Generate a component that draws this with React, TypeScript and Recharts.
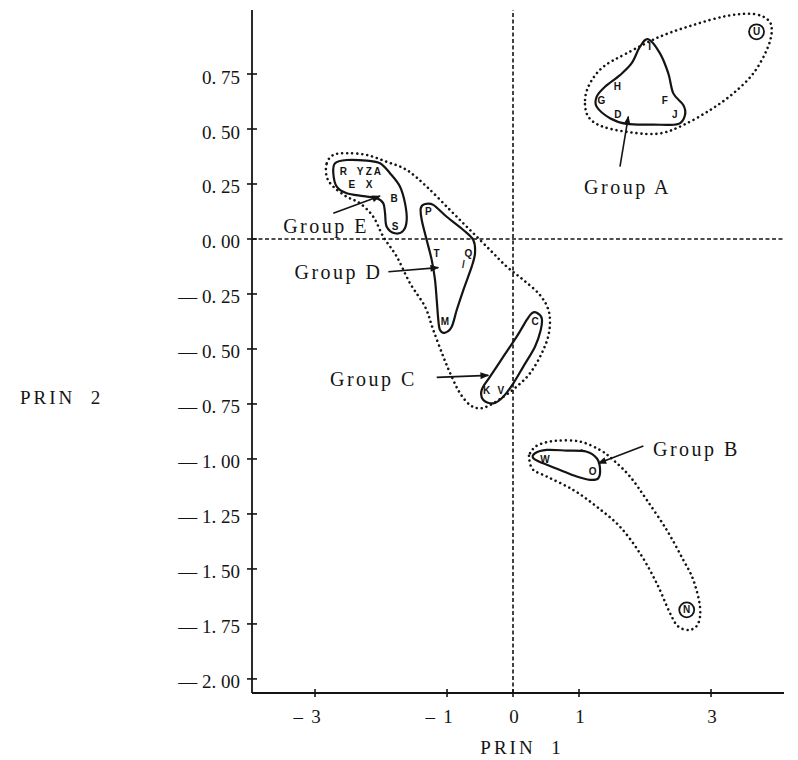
import React from 'react';
import { ComposedChart, XAxis, YAxis, Line, Scatter, ReferenceLine } from 'recharts';

// ---------- axes ----------
const xDomain: [number, number] = [-3.955, 4.106];
const yDomain: [number, number] = [-2.064, 1.041];
const xTicks = [-3, -1, 0, 1, 3];
const yTicks = [0.75, 0.5, 0.25, 0, -0.25, -0.5, -0.75, -1, -1.25, -1.5, -1.75, -2];

// ---------- observations (letters) ----------
const groupAPoints = [
  { label: 'I', x: 2.07, y: 0.875 },
  { label: 'H', x: 1.58, y: 0.695 },
  { label: 'G', x: 1.34, y: 0.63 },
  { label: 'D', x: 1.59, y: 0.567 },
  { label: 'F', x: 2.3, y: 0.63 },
  { label: 'J', x: 2.45, y: 0.564 },
];
const outlierPoints = [
  { label: 'U', x: 3.69, y: 0.942, circled: true },
  { label: 'N', x: 2.632, y: -1.686, circled: true },
];
const groupEPoints = [
  { label: 'R', x: -2.571, y: 0.309 },
  { label: 'Y', x: -2.318, y: 0.309 },
  { label: 'Z', x: -2.185, y: 0.309 },
  { label: 'A', x: -2.056, y: 0.309 },
  { label: 'E', x: -2.444, y: 0.249 },
  { label: 'X', x: -2.18, y: 0.249 },
  { label: 'B', x: -1.803, y: 0.182 },
  { label: 'S', x: -1.788, y: 0.059 },
];
const groupDPoints = [
  { label: 'P', x: -1.283, y: 0.124 },
  { label: 'T', x: -1.157, y: -0.065 },
  { label: 'Q', x: -0.677, y: -0.065 },
  { label: '/', x: -0.753, y: -0.118 },
  { label: 'M', x: -1.03, y: -0.376 },
];
const groupCPoints = [
  { label: 'C', x: 0.333, y: -0.376 },
  { label: 'K', x: -0.4, y: -0.69 },
  { label: 'V', x: -0.186, y: -0.69 },
];
const groupBPoints = [
  { label: 'W', x: 0.485, y: -1.001 },
  { label: 'O', x: 1.207, y: -1.058 },
  { label: "'", x: 1.04, y: -0.974 },
];

// ---------- group outlines (closed curves through these points) ----------
const outlineA = [
  { x: 2.05, y: 0.908 }, { x: 2.227, y: 0.844 }, { x: 2.353, y: 0.753 }, { x: 2.429, y: 0.662 },
  { x: 2.58, y: 0.609 }, { x: 2.606, y: 0.564 }, { x: 2.505, y: 0.523 }, { x: 2.126, y: 0.52 },
  { x: 1.723, y: 0.523 }, { x: 1.47, y: 0.549 }, { x: 1.268, y: 0.601 }, { x: 1.268, y: 0.647 },
  { x: 1.394, y: 0.692 }, { x: 1.621, y: 0.745 }, { x: 1.798, y: 0.799 }, { x: 1.924, y: 0.874 },
];
const outlineAU = [
  { x: 1.091, y: 0.632 }, { x: 1.167, y: 0.708 }, { x: 1.368, y: 0.783 }, { x: 1.723, y: 0.844 },
  { x: 2.227, y: 0.92 }, { x: 2.732, y: 0.973 }, { x: 3.238, y: 1.014 }, { x: 3.641, y: 1.023 },
  { x: 3.868, y: 0.995 }, { x: 3.92, y: 0.942 }, { x: 3.844, y: 0.859 }, { x: 3.641, y: 0.753 },
  { x: 3.338, y: 0.662 }, { x: 2.985, y: 0.586 }, { x: 2.58, y: 0.518 }, { x: 2.227, y: 0.48 },
  { x: 1.823, y: 0.483 }, { x: 1.368, y: 0.51 }, { x: 1.141, y: 0.556 },
];
const outlineE = [
  { x: -2.697, y: 0.344 }, { x: -2.52, y: 0.359 }, { x: -2.217, y: 0.356 }, { x: -2.015, y: 0.344 },
  { x: -1.864, y: 0.299 }, { x: -1.712, y: 0.238 }, { x: -1.636, y: 0.162 }, { x: -1.611, y: 0.086 },
  { x: -1.662, y: 0.038 }, { x: -1.788, y: 0.026 }, { x: -1.914, y: 0.056 }, { x: -1.939, y: 0.117 },
  { x: -1.965, y: 0.162 }, { x: -2.065, y: 0.185 }, { x: -2.268, y: 0.195 }, { x: -2.52, y: 0.208 },
  { x: -2.671, y: 0.238 }, { x: -2.723, y: 0.299 },
];
const outlineD = [
  { x: -1.333, y: 0.159 }, { x: -1.208, y: 0.155 }, { x: -1.005, y: 0.101 }, { x: -0.753, y: 0.041 },
  { x: -0.602, y: -0.005 }, { x: -0.576, y: -0.065 }, { x: -0.626, y: -0.126 }, { x: -0.753, y: -0.232 },
  { x: -0.853, y: -0.323 }, { x: -0.929, y: -0.399 }, { x: -1.03, y: -0.426 }, { x: -1.106, y: -0.414 },
  { x: -1.132, y: -0.368 }, { x: -1.156, y: -0.277 }, { x: -1.182, y: -0.186 }, { x: -1.232, y: -0.095 },
  { x: -1.308, y: -0.005 }, { x: -1.383, y: 0.086 }, { x: -1.398, y: 0.14 },
];
const outlineC = [
  { x: 0.359, y: -0.335 }, { x: 0.435, y: -0.36 }, { x: 0.42, y: -0.414 }, { x: 0.333, y: -0.49 },
  { x: 0.156, y: -0.58 }, { x: 0.005, y: -0.656 }, { x: -0.147, y: -0.717 }, { x: -0.298, y: -0.747 },
  { x: -0.45, y: -0.732 }, { x: -0.474, y: -0.686 }, { x: -0.348, y: -0.626 }, { x: -0.147, y: -0.535 },
  { x: 0.056, y: -0.444 }, { x: 0.208, y: -0.368 }, { x: 0.283, y: -0.338 },
];
const outlineCDE = [
  { x: -2.823, y: 0.344 }, { x: -2.723, y: 0.382 }, { x: -2.52, y: 0.39 }, { x: -2.217, y: 0.382 },
  { x: -1.914, y: 0.351 }, { x: -1.611, y: 0.314 }, { x: -1.308, y: 0.238 }, { x: -0.955, y: 0.132 },
  { x: -0.652, y: 0.041 }, { x: -0.348, y: -0.05 }, { x: -0.095, y: -0.126 }, { x: 0.156, y: -0.186 },
  { x: 0.409, y: -0.255 }, { x: 0.545, y: -0.332 }, { x: 0.545, y: -0.427 }, { x: 0.435, y: -0.52 },
  { x: 0.258, y: -0.61 }, { x: 0.056, y: -0.671 }, { x: -0.147, y: -0.717 }, { x: -0.348, y: -0.755 },
  { x: -0.5, y: -0.77 }, { x: -0.652, y: -0.755 }, { x: -0.803, y: -0.701 }, { x: -0.929, y: -0.626 },
  { x: -1.056, y: -0.535 }, { x: -1.208, y: -0.414 }, { x: -1.333, y: -0.308 }, { x: -1.561, y: -0.201 },
  { x: -1.762, y: -0.08 }, { x: -1.965, y: 0.01 }, { x: -2.117, y: 0.101 }, { x: -2.318, y: 0.162 },
  { x: -2.52, y: 0.192 }, { x: -2.723, y: 0.238 }, { x: -2.823, y: 0.283 },
];
const outlineB = [
  { x: 0.333, y: -0.974 }, { x: 0.511, y: -0.959 }, { x: 0.814, y: -0.962 }, { x: 1.117, y: -0.967 },
  { x: 1.268, y: -0.997 }, { x: 1.318, y: -1.042 }, { x: 1.292, y: -1.088 }, { x: 1.167, y: -1.095 },
  { x: 0.965, y: -1.08 }, { x: 0.712, y: -1.05 }, { x: 0.459, y: -1.02 }, { x: 0.308, y: -0.997 },
];
const outlineBN = [
  { x: 0.258, y: -0.974 }, { x: 0.383, y: -0.936 }, { x: 0.662, y: -0.917 }, { x: 1.015, y: -0.921 },
  { x: 1.318, y: -0.959 }, { x: 1.52, y: -1.005 }, { x: 1.773, y: -1.08 }, { x: 2.026, y: -1.186 },
  { x: 2.329, y: -1.323 }, { x: 2.58, y: -1.459 }, { x: 2.732, y: -1.55 }, { x: 2.833, y: -1.671 },
  { x: 2.808, y: -1.747 }, { x: 2.682, y: -1.777 }, { x: 2.505, y: -1.762 }, { x: 2.379, y: -1.701 },
  { x: 2.177, y: -1.565 }, { x: 1.924, y: -1.429 }, { x: 1.621, y: -1.308 }, { x: 1.268, y: -1.217 },
  { x: 0.914, y: -1.141 }, { x: 0.511, y: -1.08 }, { x: 0.308, y: -1.05 }, { x: 0.247, y: -1.005 },
];

// ---------- group captions and arrows ----------
const groupLabels = [
  { text: 'Group A', x: 1.735, y: 0.236 },
  { text: 'Group B', x: 2.78, y: -0.955 },
  { text: 'Group C', x: -2.114, y: -0.636 },
  { text: 'Group D', x: -2.644, y: -0.15 },
  { text: 'Group E', x: -2.833, y: 0.059 },
];
const arrowA = [{ x: 1.621, y: 0.329 }, { x: 1.747, y: 0.556 }];
const arrowB = [{ x: 1.975, y: -0.941 }, { x: 1.292, y: -1.02 }];
const arrowC = [{ x: -1.156, y: -0.629 }, { x: -0.374, y: -0.62 }];
const arrowD = [{ x: -1.889, y: -0.149 }, { x: -1.132, y: -0.13 }];
const arrowE = [{ x: -2.723, y: 0.117 }, { x: -2.015, y: 0.195 }];

// ---------- styling ----------
const INK = '#141414';
const SERIF = '"Liberation Serif", "DejaVu Serif", serif';
const SANS = '"Liberation Sans", Arial, sans-serif';

// closed cardinal (Catmull-Rom) curve through the outline points
const closedSmooth: any = (context: any) => {
  let pts: number[][] = [];
  return {
    areaStart() {},
    areaEnd() {},
    lineStart() {
      pts = [];
    },
    point(x: number, y: number) {
      pts.push([+x, +y]);
    },
    lineEnd() {
      const n = pts.length;
      if (n < 3) return;
      const k = 1 / 6;
      context.moveTo(pts[0][0], pts[0][1]);
      for (let i = 0; i < n; i++) {
        const p0 = pts[(i - 1 + n) % n];
        const p1 = pts[i];
        const p2 = pts[(i + 1) % n];
        const p3 = pts[(i + 2) % n];
        context.bezierCurveTo(
          p1[0] + (p2[0] - p0[0]) * k,
          p1[1] + (p2[1] - p0[1]) * k,
          p2[0] - (p3[0] - p1[0]) * k,
          p2[1] - (p3[1] - p1[1]) * k,
          p2[0],
          p2[1]
        );
      }
      context.closePath();
    },
  };
};

const fmtY = (v: number) => {
  const s = Math.abs(v).toFixed(2).replace('.', '. ');
  return v < 0 ? `— ${s}` : s;
};

const YTick = (props: any) => {
  const { x, y, payload } = props;
  const v = payload.value;
  return (
    <g>
      <line x1={x - 5} x2={x + 5} y1={y} y2={y} stroke={INK} strokeWidth={1.6} />
      <text x={x - 12} y={y + 3} textAnchor="end" dominantBaseline="central" fontFamily={SERIF} fontSize={19} fill={INK}>
        {fmtY(v)}
      </text>
    </g>
  );
};

const XTick = (props: any) => {
  const { x, y, payload } = props;
  const v = payload.value;
  return (
    <g>
      <line x1={x} x2={x} y1={y - 4} y2={y + 4} stroke={INK} strokeWidth={1.6} />
      <text x={x + 1} y={y + 23} textAnchor="middle" dominantBaseline="central" fontFamily={SERIF} fontSize={19} fill={INK}>
        {Math.abs(v)}
      </text>
      {v < 0 && (
        <text x={x - 12} y={y + 23} textAnchor="end" dominantBaseline="central" fontFamily={SERIF} fontSize={19} fill={INK}>
          –
        </text>
      )}
    </g>
  );
};

const LetterShape = (props: any) => {
  const { cx, cy, payload } = props;
  return (
    <g>
      {payload.circled && <circle cx={cx} cy={cy} r={7.5} fill="none" stroke={INK} strokeWidth={1.8} />}
      <text x={cx} y={cy} textAnchor="middle" dominantBaseline="central" fontFamily={SANS} fontWeight="bold" fontSize={10} fill={INK}>
        {payload.label}
      </text>
    </g>
  );
};

const CaptionShape = (props: any) => {
  const { cx, cy, payload } = props;
  return (
    <text x={cx} y={cy} textAnchor="middle" dominantBaseline="central" fontFamily={SERIF} fontSize={20} letterSpacing={2.5} fill={INK}>
      {payload.text}
    </text>
  );
};

const solidOutline = (data: any[], key: string) => (
  <Line
    key={key}
    data={data}
    dataKey="y"
    type={closedSmooth}
    stroke={INK}
    strokeWidth={2.2}
    dot={false}
    activeDot={false}
    isAnimationActive={false}
  />
);

const dottedOutline = (data: any[], key: string) => (
  <Line
    key={key}
    data={data}
    dataKey="y"
    type={closedSmooth}
    stroke={INK}
    strokeWidth={2.6}
    strokeDasharray="0.01 5"
    strokeLinecap="round"
    dot={false}
    activeDot={false}
    isAnimationActive={false}
  />
);

const arrowLine = (data: any[], key: string) => (
  <Line
    key={key}
    data={data}
    dataKey="y"
    type="linear"
    stroke={INK}
    strokeWidth={1.6}
    markerEnd="url(#arrowHead)"
    dot={false}
    activeDot={false}
    isAnimationActive={false}
  />
);

export default function App() {
  return (
    <div style={{ width: 790, height: 752, position: 'relative', background: '#fff' }}>
      <svg width={0} height={0} style={{ position: 'absolute' }}>
        <defs>
          <marker
            id="arrowHead"
            viewBox="0 0 10 8"
            refX={9}
            refY={4}
            markerWidth={10}
            markerHeight={7}
            markerUnits="userSpaceOnUse"
            orient="auto"
          >
            <path d="M0,0 L10,4 L0,8 Z" fill={INK} />
          </marker>
        </defs>
      </svg>
      <ComposedChart width={790} height={752} margin={{ top: 2, right: 14, bottom: 0, left: 0 }}>
        <XAxis
          type="number"
          dataKey="x"
          domain={xDomain}
          ticks={xTicks}
          interval={0}
          tickSize={0}
          tickMargin={0}
          tickLine={false}
          axisLine={{ stroke: INK, strokeWidth: 1.8 }}
          tick={<XTick />}
          height={67}
          label={{
            content: (p: any) => {
              const vb = p.viewBox;
              return (
                <text x={vb.x + vb.width / 2 + 4} y={vb.y + 54} textAnchor="middle" dominantBaseline="central" fontFamily={SERIF} fontSize={19} letterSpacing={3} fill={INK}>
                  {'PRIN\u00a0\u00a01'}
                </text>
              );
            },
          }}
        />
        <YAxis
          type="number"
          dataKey="y"
          domain={yDomain}
          ticks={yTicks}
          interval={0}
          tickSize={0}
          tickMargin={0}
          tickLine={false}
          axisLine={{ stroke: INK, strokeWidth: 1.8 }}
          tick={<YTick />}
          width={244}
          label={{
            content: (p: any) => {
              const vb = p.viewBox;
              return (
                <text x={vb.x + 12} y={vb.y + vb.height / 2 + 46} textAnchor="start" dominantBaseline="central" fontFamily={SERIF} fontSize={19} letterSpacing={3} fill={INK}>
                  {'PRIN\u00a0\u00a02'}
                </text>
              );
            },
          }}
        />
        <ReferenceLine x={0} stroke={INK} strokeWidth={1.6} strokeDasharray="4 2.5" />
        <ReferenceLine y={0} stroke={INK} strokeWidth={1.6} strokeDasharray="4 2.5" />

        {dottedOutline(outlineAU, 'dAU')}
        {dottedOutline(outlineCDE, 'dCDE')}
        {dottedOutline(outlineBN, 'dBN')}
        {solidOutline(outlineA, 'sA')}
        {solidOutline(outlineE, 'sE')}
        {solidOutline(outlineD, 'sD')}
        {solidOutline(outlineC, 'sC')}
        {solidOutline(outlineB, 'sB')}

        {arrowLine(arrowA, 'aA')}
        {arrowLine(arrowB, 'aB')}
        {arrowLine(arrowC, 'aC')}
        {arrowLine(arrowD, 'aD')}
        {arrowLine(arrowE, 'aE')}

        <Scatter data={groupAPoints} dataKey="y" shape={<LetterShape />} isAnimationActive={false} />
        <Scatter data={groupBPoints} dataKey="y" shape={<LetterShape />} isAnimationActive={false} />
        <Scatter data={groupCPoints} dataKey="y" shape={<LetterShape />} isAnimationActive={false} />
        <Scatter data={groupDPoints} dataKey="y" shape={<LetterShape />} isAnimationActive={false} />
        <Scatter data={groupEPoints} dataKey="y" shape={<LetterShape />} isAnimationActive={false} />
        <Scatter data={outlierPoints} dataKey="y" shape={<LetterShape />} isAnimationActive={false} />
        <Scatter data={groupLabels} dataKey="y" shape={<CaptionShape />} isAnimationActive={false} />
      </ComposedChart>
    </div>
  );
}
